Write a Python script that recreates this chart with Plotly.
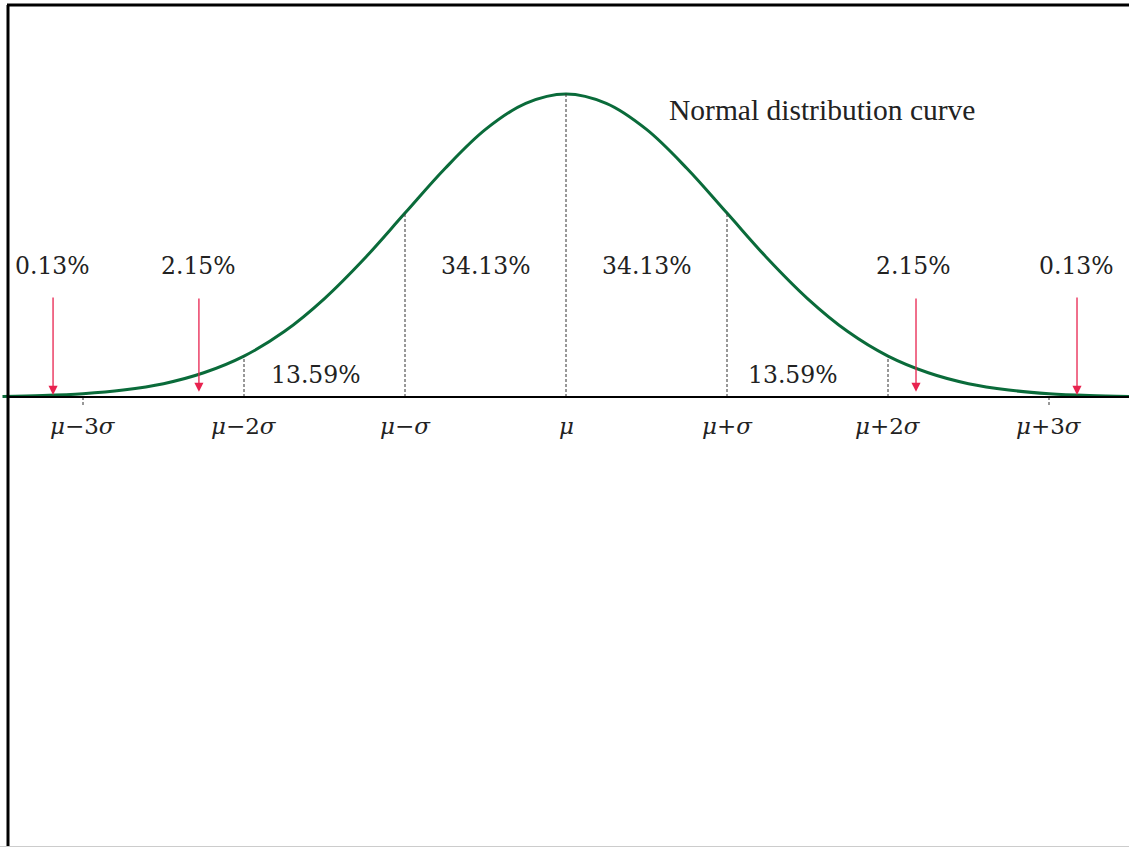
import plotly.graph_objects as go

# ---- data (x in units of sigma from the mean, heights relative to the peak) ----
curve_z = [-3.5, -3.25, -3.0, -2.75, -2.5, -2.25, -2.0, -1.75, -1.5, -1.25, -1.0, -0.75,
           -0.5, -0.25, 0.0, 0.25, 0.5, 0.75, 1.0, 1.25, 1.5, 1.75, 2.0, 2.25, 2.5,
           2.75, 3.0, 3.25, 3.5]
curve_h = [0.002, 0.005, 0.011, 0.023, 0.044, 0.080, 0.135, 0.216, 0.325, 0.458, 0.607, 0.755,
           0.883, 0.969, 1.0, 0.969, 0.883, 0.755, 0.607, 0.458, 0.325, 0.216, 0.135, 0.080,
           0.044, 0.023, 0.011, 0.005, 0.002]

tick_z = [-3, -2, -1, 0, 1, 2, 3]
tick_labels = ["<i>μ</i>−3<i>σ</i>", "<i>μ</i>−2<i>σ</i>", "<i>μ</i>−<i>σ</i>", "<i>μ</i>",
               "<i>μ</i>+<i>σ</i>", "<i>μ</i>+2<i>σ</i>", "<i>μ</i>+3<i>σ</i>"]

divider_z = [-2, -1, 0, 1, 2]
divider_h = [0.135, 0.607, 1.0, 0.607, 0.135]

upper_pct_labels = ["0.13%", "2.15%", "34.13%", "34.13%", "2.15%", "0.13%"]
upper_pct_z = [-3.19, -2.28, -0.5, 0.5, 2.16, 3.17]
lower_pct_labels = ["13.59%", "13.59%"]
lower_pct_z = [-1.55, 1.41]

arrow_z = [-3.186, -2.28, 2.174, 3.174]
arrow_tip = [0.007, 0.017, 0.017, 0.007]
arrow_tail = [0.333, 0.330, 0.330, 0.333]

title_text = "Normal distribution curve"

# ---- figure geometry ----
W, H = 1129, 847
cx, sig = 566, 161          # pixel of mean, pixels per sigma
base, peak = 397, 94        # pixel of baseline, pixel of peak
unit = base - peak
xr = [-cx / sig, (W - cx) / sig]
yr = [-(H - base) / unit, base / unit]

FONT = "DejaVu Serif"
TFONT = "Liberation Serif"
TXT = "#222222"
GREEN = "#0a6b3a"
RED = "#e8234f"

fig = go.Figure()

fig.add_trace(go.Scatter(x=curve_z, y=curve_h, mode="lines",
                         line=dict(color=GREEN, width=3, shape="spline", smoothing=1.0),
                         hoverinfo="skip", showlegend=False))

# dashed dividers
for z, h in zip(divider_z, divider_h):
    fig.add_shape(type="line", x0=z, x1=z, y0=0, y1=h, xref="x", yref="y",
                  line=dict(color="#333333", width=1, dash="3px,2px"))

# small ticks at +-3 sigma
for z in [-3, 3]:
    fig.add_shape(type="line", x0=z, x1=z, y0=0, y1=-9 / unit, xref="x", yref="y",
                  line=dict(color="#333333", width=1, dash="3px,2px"))

# baseline
fig.add_shape(type="line", x0=(8 - cx) / sig, x1=xr[1], y0=0, y1=0, xref="x", yref="y",
              line=dict(color="black", width=2))

# tick labels
for z, t in zip(tick_z, tick_labels):
    fig.add_annotation(x=z, y=-29 / unit, text=t, showarrow=False, xref="x", yref="y",
                       font=dict(family=FONT, size=23, color=TXT))

for z, t in zip(upper_pct_z, upper_pct_labels):
    fig.add_annotation(x=z, y=(base - 266) / unit, text=t, showarrow=False, xref="x", yref="y",
                       font=dict(family=FONT, size=23.5, color=TXT))
for z, t in zip(lower_pct_z, lower_pct_labels):
    fig.add_annotation(x=z, y=(base - 375) / unit, text=t, showarrow=False, xref="x", yref="y",
                       font=dict(family=FONT, size=23.5, color=TXT))

for z, tip, tail in zip(arrow_z, arrow_tip, arrow_tail):
    fig.add_annotation(x=z, y=tip, ax=z, ay=tail, xref="x", yref="y", axref="x", ayref="y",
                       text="", showarrow=True, arrowhead=2, arrowsize=1.4, arrowwidth=1.3,
                       arrowcolor=RED)

fig.add_annotation(x=(667 - cx) / sig, y=(base - 110) / unit, text=title_text, showarrow=False,
                   xref="x", yref="y", xanchor="left",
                   font=dict(family=TFONT, size=29.5, color=TXT))

# frame
fig.add_shape(type="line", xref="paper", yref="paper", x0=8 / W, x1=8 / W, y0=0, y1=1 - 5 / H,
              line=dict(color="black", width=3))
fig.add_shape(type="line", xref="paper", yref="paper", x0=7 / W, x1=1, y0=1 - 5 / H, y1=1 - 5 / H,
              line=dict(color="black", width=3))
fig.add_shape(type="line", xref="paper", yref="paper", x0=0, x1=1, y0=0.5 / H, y1=0.5 / H,
              line=dict(color="#cccccc", width=1))

fig.update_layout(width=W, height=H, margin=dict(l=0, r=0, t=0, b=0),
                  paper_bgcolor="white", plot_bgcolor="white",
                  xaxis=dict(range=xr, visible=False, fixedrange=True),
                  yaxis=dict(range=yr, visible=False, fixedrange=True),
                  showlegend=False)

fig.write_html("out.html", config={"displayModeBar": False},
               post_script="document.body.style.margin='0';document.body.style.overflow='hidden';")
